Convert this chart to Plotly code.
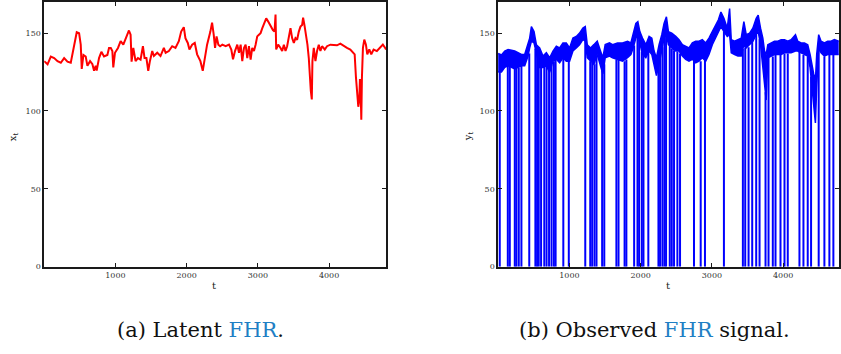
import plotly.graph_objects as go

# Latent fetal heart rate x_t
latent_t = [0, 47, 93, 140, 187, 233, 280, 327, 373, 397, 429, 457, 490, 513, 527, 551, 583, 607, 644, 677,
            700, 723, 737, 770, 803, 840, 887, 910, 935, 957, 970, 994, 1036, 1073, 1111, 1143, 1190, 1213,
            1227, 1251, 1283, 1316, 1353, 1386, 1409, 1435, 1461, 1484, 1517, 1540, 1587, 1633, 1680, 1705,
            1750, 1797, 1843, 1890, 1923, 1960, 1983, 2016, 2039, 2077, 2114, 2147, 2193, 2226, 2254, 2287,
            2333, 2357, 2380, 2399, 2420, 2445, 2470, 2501, 2548, 2595, 2627, 2651, 2679, 2711, 2735, 2758,
            2781, 2805, 2828, 2851, 2875, 2898, 2921, 2945, 2968, 2991, 3015, 3038, 3061, 3085, 3117, 3145,
            3178, 3211, 3234, 3248, 3257, 3285, 3318, 3341, 3365, 3388, 3411, 3435, 3458, 3481, 3505, 3528,
            3551, 3575, 3598, 3621, 3635, 3654, 3677, 3696, 3715, 3729, 3743, 3757, 3766, 3785, 3808, 3831,
            3855, 3878, 3901, 3939, 3971, 4018, 4065, 4111, 4158, 4205, 4251, 4298, 4331, 4359, 4377, 4396,
            4410, 4424, 4433, 4443, 4452, 4461, 4475, 4494, 4517, 4536, 4564, 4592, 4625, 4671, 4718, 4755,
            4788, 4800]
latent_x = [132, 130, 135, 134, 132, 131, 134, 131.7, 131, 136, 143.7, 150.6, 150, 142.6, 127, 136, 135, 129,
            132, 130, 125.8, 129, 126, 134, 138, 135, 136, 140.5, 140.5, 138.5, 128, 137.4, 140.5, 144.8,
            142.6, 146.8, 151.7, 149, 131.7, 140.5, 132, 134, 133, 141.6, 134, 134, 125.8, 132, 138.5, 135.3,
            137.4, 135.3, 140.5, 137.4, 138.5, 141.6, 140.5, 144.8, 151, 153.8, 146.8, 143.7, 139.5, 142.6,
            143.7, 136.4, 132, 125.8, 134, 142.6, 151, 156.7, 149, 140.5, 147.9, 142.6, 141.6, 142.6, 141.6,
            142.6, 139.5, 133.2, 138.5, 142.6, 137.4, 142.6, 132, 140.5, 142.6, 134, 141.6, 133, 140.5, 138.5,
            142.6, 147.9, 149, 150, 153, 156.3, 159.5, 157.4, 154.2, 152, 151, 162, 139.5, 142.6, 140.5,
            138.5, 142.6, 138.5, 141.6, 146.8, 153.2, 146.8, 143.7, 146.8, 145.8, 151, 154.2, 155.2, 160,
            155.2, 149, 142.6, 134, 121.6, 113, 107.4, 132, 140.5, 132, 138.5, 142.6, 138.5, 141.6, 139.5,
            141.6, 142.6, 142.6, 142.2, 143.3, 141.6, 140.5, 139.5, 137.4, 136.4, 121.6, 113, 102.7, 107,
            120.6, 113, 94.4, 121.6, 140.5, 145.8, 142.6, 136.4, 139.5, 136.4, 139.5, 138.5, 140.5, 142.6,
            140.5, 139.5]

# Observed signal y_t: upper and lower edges of the noisy trace
obs_t = [0, 47, 93, 140, 187, 233, 280, 327, 373, 420, 443, 467, 504, 537, 583, 630, 677, 723, 770, 817, 863,
         910, 957, 1003, 1050, 1097, 1143, 1190, 1223, 1251, 1297, 1344, 1391, 1437, 1470, 1503, 1563, 1606,
         1676, 1746, 1816, 1863, 1895, 1933, 1961, 1989, 2026, 2073, 2119, 2157, 2189, 2222, 2259, 2297,
         2329, 2362, 2390, 2437, 2493, 2539, 2586, 2633, 2679, 2726, 2773, 2819, 2866, 2913, 2959, 3006,
         3053, 3090, 3127, 3169, 3216, 3249, 3272, 3319, 3365, 3412, 3449, 3482, 3529, 3575, 3622, 3650,
         3683, 3715, 3739, 3762, 3785, 3832, 3879, 3925, 3972, 4019, 4065, 4112, 4173, 4205, 4252, 4299,
         4345, 4378, 4406, 4429, 4453, 4471, 4499, 4532, 4579, 4625, 4672, 4719, 4780]
obs_upper = [137, 136, 138.5, 139.5, 139, 138.5, 137.4, 136.3, 136.3, 142.6, 146.8, 154.2, 151, 142.6, 140.5,
             135.3, 137.4, 134.2, 138.5, 141.6, 140.5, 143.7, 143.7, 140.5, 146.8, 147.9, 150, 153.2, 154.2,
             142.6, 140.5, 142.6, 144.8, 138.5, 134.2, 142.6, 143.7, 142.6, 143.7, 143.7, 144.8, 143.7, 149,
             156.3, 157.4, 151, 146.8, 142.6, 147.9, 146.8, 138.5, 134.2, 142.6, 149, 156.3, 160.5, 151, 150,
             147.9, 145.8, 142.6, 141.6, 140.5, 143.7, 144.8, 144.8, 145.8, 143.7, 146.8, 151, 155.2, 158.4,
             163.6, 159.5, 153.2, 165.8, 145.8, 144.8, 145.8, 146.8, 157.4, 149, 150, 153.2, 159.5, 161.6,
             153.2, 146.8, 138.5, 136.3, 142.6, 143.7, 144.8, 144.8, 145.8, 145.8, 144.8, 145.8, 149, 144.8,
             143.7, 143.7, 142.6, 136.3, 128, 123.8, 119.6, 136.3, 149, 144.8, 143.7, 144.8, 144.8, 145.8,
             144.8]
obs_lower = [125, 125, 128, 129, 128, 127, 128, 129, 129, 135.3, 140.5, 144.8, 143.7, 136.3, 128, 128, 129,
             124.8, 132, 133.2, 131, 134.2, 132, 132, 138.5, 140.5, 142.6, 145.8, 144.8, 134.2, 132, 130,
             136.3, 128, 123.8, 134.2, 135.3, 134.2, 133.2, 132, 134.2, 136.3, 140.5, 146.8, 149, 142.6, 136.3,
             134.2, 138.5, 136.3, 130, 122.7, 130, 140.5, 146.8, 149, 142.6, 140.5, 138.5, 138.5, 135.3, 133.2,
             132, 133.2, 131, 132, 134.2, 132, 136.3, 142.6, 146.8, 150, 154.2, 151, 147.9, 149, 137.4, 136.3,
             135.3, 135.3, 142.6, 140.5, 142.6, 144.8, 149, 151, 142.6, 128, 115.4, 107, 134.2, 135.3, 136.3,
             136.3, 136.3, 137.4, 137.4, 137.4, 138.5, 138.5, 137.4, 136.3, 135.3, 128, 115.4, 107, 92.3,
             115.4, 140.5, 137.4, 135.3, 136.3, 136.3, 136.3, 136.3]

# Sensor dropouts: times where y_t falls to zero, and the level it drops from
drop_t = [23, 136, 164, 234, 257, 290, 327, 437, 523, 547, 570, 603, 648, 680, 715, 750, 783, 807, 915, 992,
          1223, 1293, 1320, 1353, 1381, 1460, 1490, 1660, 1690, 1775, 1800, 1909, 1956, 1979, 2017, 2040, 2108,
          2250, 2273, 2306, 2334, 2357, 2409, 2437, 2469, 2516, 2553, 2749, 2843, 2903, 3169, 3435, 3468,
          3515, 3566, 3622, 3669, 3753, 3795, 3855, 3893, 3963, 4019, 4065, 4229, 4285, 4345, 4392, 4499,
          4579, 4649, 4705]
drop_top = [126, 130, 130, 128, 128, 128, 129, 137, 140, 136, 132, 130, 129, 129, 127, 130, 132, 133, 134, 133,
            145, 132, 131, 130, 135, 126, 130, 133, 133, 132, 133, 142, 148, 146, 138, 136, 138, 130, 135, 141,
            147, 149, 142, 140, 139, 138, 137, 133, 132, 133, 151, 140, 141, 141, 145, 149, 146, 112, 135, 135,
            136, 136, 137, 137, 138, 136, 135, 122, 140, 135, 136, 136]

x_ticks = [1000, 2000, 3000, 4000]
y_ticks = [0, 50, 100, 150]

RED = "#ff0000"
BLUE = "#0000ff"
W, H = 841, 354

fig = go.Figure()

fig.add_trace(go.Scatter(x=latent_t, y=latent_x, mode="lines",
                         line=dict(color=RED, width=2), xaxis="x", yaxis="y", showlegend=False))

# noisy band of the observed signal
fig.add_trace(go.Scatter(x=obs_t, y=obs_lower, mode="lines", line=dict(color=BLUE, width=1.5),
                         xaxis="x2", yaxis="y2", showlegend=False))
fig.add_trace(go.Scatter(x=obs_t, y=obs_upper, mode="lines", line=dict(color=BLUE, width=1.5),
                         fill="tonexty", fillcolor=BLUE, xaxis="x2", yaxis="y2", showlegend=False))

# dropouts as vertical strokes
dx, dy = [], []
for t, top in zip(drop_t, drop_top):
    dx += [t, t, None]
    dy += [top, 0, None]
fig.add_trace(go.Scatter(x=dx, y=dy, mode="lines", line=dict(color=BLUE, width=2),
                         xaxis="x2", yaxis="y2", showlegend=False, connectgaps=False))

tick_font = dict(family="DejaVu Serif", size=8, color="#333333")
common_axis = dict(showline=True, linecolor="#1a1a1a", linewidth=1.5, mirror="allticks",
                   ticks="inside", ticklen=4, tickwidth=1, tickcolor="#1a1a1a",
                   showgrid=False, zeroline=False, tickfont=tick_font)

y_dom = [(H - 270) / H, 1.0]
fig.update_layout(
    width=W, height=H,
    margin=dict(l=0, r=0, t=0, b=0),
    paper_bgcolor="white", plot_bgcolor="white",
    xaxis=dict(domain=[44.3 / W, 387 / W], range=[0, 4800], tickvals=x_ticks, anchor="y", **common_axis),
    yaxis=dict(domain=y_dom, range=[0, 170], tickvals=y_ticks, anchor="x", **common_axis),
    xaxis2=dict(domain=[499.3 / W, 1.0], range=[0, 4784], tickvals=x_ticks, anchor="y2", **common_axis),
    yaxis2=dict(domain=y_dom, range=[0, 170], tickvals=y_ticks, anchor="x2", **common_axis),
)

title_font = dict(family="DejaVu Serif", size=10, color="#222222")
cap_font = dict(family="DejaVu Serif", size=21, color="#111111")
fhr = "<span style='color:#1f7fc4'>FHR</span>"
annotations = [
    dict(text="t", x=214.5 / W, y=1 - 289 / H, font=title_font),
    dict(text="t", x=670 / W, y=1 - 289 / H, font=title_font),
    dict(text="x<sub>t</sub>", x=13 / W, y=1 - 137 / H, textangle=-90, font=title_font),
    dict(text="y<sub>t</sub>", x=469 / W, y=1 - 137 / H, textangle=-90, font=title_font),
    dict(text="(a) Latent " + fhr + ".", x=201 / W, y=1 - 335 / H, font=cap_font),
    dict(text="(b) Observed " + fhr + " signal.", x=656 / W, y=1 - 335 / H, font=cap_font),
]
for a in annotations:
    a.update(xref="paper", yref="paper", showarrow=False, xanchor="center", yanchor="middle")
fig.update_layout(annotations=annotations)

fig.write_html("out.html")
